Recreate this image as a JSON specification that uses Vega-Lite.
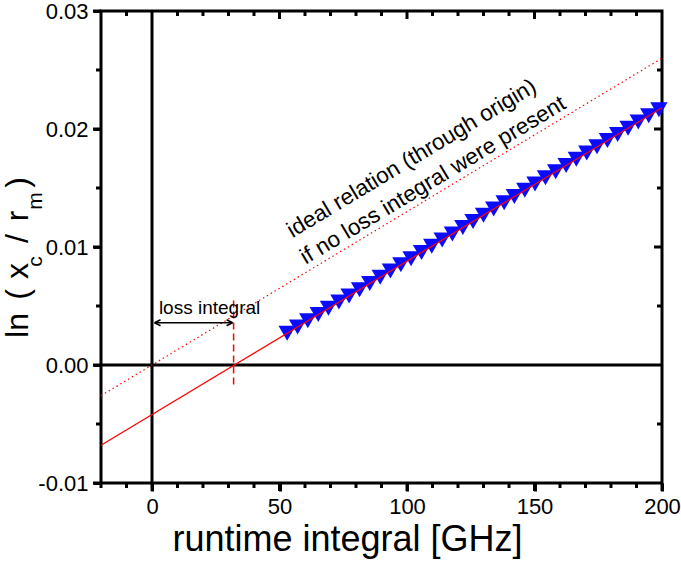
{
  "$schema": "https://vega.github.io/schema/vega-lite/v6.json",
  "autosize": {"type": "none"},
  "padding": {"left": 101, "top": 11, "right": 19, "bottom": 79},
  "width": 561,
  "height": 472,
  "background": "white",
  "config": {
    "font": "Liberation Sans",
    "view": {"stroke": "black", "strokeWidth": 3}
  },
  "datasets": {
    "pts": [
      {"x": 53.0, "y": 0.00269}, {"x": 57.1, "y": 0.00322}, {"x": 61.1, "y": 0.00374}, {"x": 65.2, "y": 0.00428},
      {"x": 69.2, "y": 0.00480}, {"x": 73.3, "y": 0.00533}, {"x": 77.3, "y": 0.00585}, {"x": 81.4, "y": 0.00638},
      {"x": 85.4, "y": 0.00690}, {"x": 89.5, "y": 0.00744}, {"x": 93.5, "y": 0.00796}, {"x": 97.6, "y": 0.00849},
      {"x": 101.6, "y": 0.00901}, {"x": 105.7, "y": 0.00954}, {"x": 109.7, "y": 0.01006}, {"x": 113.8, "y": 0.01059},
      {"x": 117.8, "y": 0.01111}, {"x": 121.9, "y": 0.01165}, {"x": 125.9, "y": 0.01217}, {"x": 130.0, "y": 0.01270},
      {"x": 134.0, "y": 0.01322}, {"x": 138.1, "y": 0.01375}, {"x": 142.1, "y": 0.01427}, {"x": 146.2, "y": 0.01481},
      {"x": 150.2, "y": 0.01533}, {"x": 154.3, "y": 0.01586}, {"x": 158.3, "y": 0.01638}, {"x": 162.4, "y": 0.01691},
      {"x": 166.4, "y": 0.01743}, {"x": 170.5, "y": 0.01797}, {"x": 174.5, "y": 0.01849}, {"x": 178.6, "y": 0.01902},
      {"x": 182.6, "y": 0.01954}, {"x": 186.7, "y": 0.02007}, {"x": 190.7, "y": 0.02059}, {"x": 194.8, "y": 0.02112},
      {"x": 198.8, "y": 0.02164}
    ],
    "fit": [{"x": -20, "y": -0.0068}, {"x": 200, "y": 0.0218}],
    "ideal": [{"x": -20, "y": -0.0026}, {"x": 200, "y": 0.026}],
    "xticks": [
      {"v": 0, "a": -0.01, "b": -0.010678}, {"v": 50, "a": -0.01, "b": -0.010678}, {"v": 100, "a": -0.01, "b": -0.010678}, {"v": 150, "a": -0.01, "b": -0.010678}, {"v": 200, "a": -0.01, "b": -0.010678},
      {"v": -20, "a": -0.01, "b": -0.010424}, {"v": -10, "a": -0.01, "b": -0.010424}, {"v": 10, "a": -0.01, "b": -0.010424}, {"v": 20, "a": -0.01, "b": -0.010424}, {"v": 30, "a": -0.01, "b": -0.010424}, {"v": 40, "a": -0.01, "b": -0.010424},
      {"v": 60, "a": -0.01, "b": -0.010424}, {"v": 70, "a": -0.01, "b": -0.010424}, {"v": 80, "a": -0.01, "b": -0.010424}, {"v": 90, "a": -0.01, "b": -0.010424}, {"v": 110, "a": -0.01, "b": -0.010424}, {"v": 120, "a": -0.01, "b": -0.010424},
      {"v": 130, "a": -0.01, "b": -0.010424}, {"v": 140, "a": -0.01, "b": -0.010424}, {"v": 160, "a": -0.01, "b": -0.010424}, {"v": 170, "a": -0.01, "b": -0.010424}, {"v": 180, "a": -0.01, "b": -0.010424}, {"v": 190, "a": -0.01, "b": -0.010424},
      {"v": 50, "a": 0.03, "b": 0.029322}, {"v": 100, "a": 0.03, "b": 0.029322}, {"v": 150, "a": 0.03, "b": 0.029322},
      {"v": -10, "a": 0.03, "b": 0.029576}, {"v": 10, "a": 0.03, "b": 0.029576}, {"v": 20, "a": 0.03, "b": 0.029576}, {"v": 30, "a": 0.03, "b": 0.029576}, {"v": 40, "a": 0.03, "b": 0.029576},
      {"v": 60, "a": 0.03, "b": 0.029576}, {"v": 70, "a": 0.03, "b": 0.029576}, {"v": 80, "a": 0.03, "b": 0.029576}, {"v": 90, "a": 0.03, "b": 0.029576}, {"v": 110, "a": 0.03, "b": 0.029576}, {"v": 120, "a": 0.03, "b": 0.029576},
      {"v": 130, "a": 0.03, "b": 0.029576}, {"v": 140, "a": 0.03, "b": 0.029576}, {"v": 160, "a": 0.03, "b": 0.029576}, {"v": 170, "a": 0.03, "b": 0.029576}, {"v": 180, "a": 0.03, "b": 0.029576}, {"v": 190, "a": 0.03, "b": 0.029576}
    ],
    "yticks": [
      {"v": -0.01, "a": -20, "b": -23.137}, {"v": 0, "a": -20, "b": -23.137}, {"v": 0.01, "a": -20, "b": -23.137}, {"v": 0.02, "a": -20, "b": -23.137}, {"v": 0.03, "a": -20, "b": -23.137},
      {"v": -0.005, "a": -20, "b": -21.961}, {"v": 0.005, "a": -20, "b": -21.961}, {"v": 0.015, "a": -20, "b": -21.961}, {"v": 0.025, "a": -20, "b": -21.961},
      {"v": 0.01, "a": 200, "b": 196.863}, {"v": 0.02, "a": 200, "b": 196.863},
      {"v": -0.005, "a": 200, "b": 198.039}, {"v": 0.005, "a": 200, "b": 198.039}, {"v": 0.015, "a": 200, "b": 198.039}, {"v": 0.025, "a": 200, "b": 198.039}
    ]
  },
  "resolve": {"axis": {"x": "independent", "y": "independent"}},
  "layer": [
    {
      "data": {"values": [{"x": 0}]},
      "mark": {"type": "rule", "stroke": "black", "strokeWidth": 3},
      "encoding": {"x": {"field": "x", "type": "quantitative", "axis": null, "scale": {"domain": [-20, 200], "nice": false, "zero": false}}}
    },
    {
      "data": {"values": [{"y": 0}]},
      "mark": {"type": "rule", "stroke": "black", "strokeWidth": 3},
      "encoding": {"y": {"field": "y", "type": "quantitative", "axis": null, "scale": {"domain": [-0.01, 0.03], "nice": false, "zero": false}}}
    },
    {
      "data": {"name": "xticks"},
      "mark": {"type": "rule", "stroke": "#000000", "strokeWidth": 3, "opacity": 1, "strokeCap": "butt"},
      "encoding": {
        "x": {"field": "v", "type": "quantitative", "axis": null, "scale": {"domain": [-20, 200], "nice": false, "zero": false}},
        "y": {"field": "a", "type": "quantitative", "axis": null, "scale": {"domain": [-0.01, 0.03], "nice": false, "zero": false}},
        "y2": {"field": "b"}
      }
    },
    {
      "data": {"name": "yticks"},
      "mark": {"type": "rule", "stroke": "#000000", "strokeWidth": 3, "opacity": 1, "strokeCap": "butt"},
      "encoding": {
        "y": {"field": "v", "type": "quantitative", "axis": null, "scale": {"domain": [-0.01, 0.03], "nice": false, "zero": false}},
        "x": {"field": "a", "type": "quantitative", "axis": null, "scale": {"domain": [-20, 200], "nice": false, "zero": false}},
        "x2": {"field": "b"}
      }
    },
    {
      "data": {"name": "ideal"},
      "mark": {"type": "line", "stroke": "#ff0000", "strokeWidth": 1.2, "strokeDash": [1.5, 3]},
      "encoding": {
        "x": {"field": "x", "type": "quantitative", "axis": null, "scale": {"domain": [-20, 200], "nice": false, "zero": false}},
        "y": {"field": "y", "type": "quantitative", "axis": null, "scale": {"domain": [-0.01, 0.03], "nice": false, "zero": false}}
      }
    },
    {
      "data": {"values": [{"x": 32, "y": -0.00165, "y2": 0.0058}]},
      "mark": {"type": "rule", "stroke": "#ff0000", "strokeWidth": 1.5, "strokeDash": [7, 4]},
      "encoding": {
        "x": {"field": "x", "type": "quantitative", "axis": null, "scale": {"domain": [-20, 200], "nice": false, "zero": false}},
        "y": {"field": "y", "type": "quantitative", "axis": null, "scale": {"domain": [-0.01, 0.03], "nice": false, "zero": false}},
        "y2": {"field": "y2"}
      }
    },
    {
      "data": {"values": [{"x": 1.0, "x2": 31.6, "y": 0.00358}]},
      "mark": {"type": "rule", "stroke": "black", "strokeWidth": 1.5},
      "encoding": {
        "x": {"field": "x", "type": "quantitative", "axis": null, "scale": {"domain": [-20, 200], "nice": false, "zero": false}},
        "x2": {"field": "x2"},
        "y": {"field": "y", "type": "quantitative", "axis": null, "scale": {"domain": [-0.01, 0.03], "nice": false, "zero": false}}
      }
    },
    {
      "data": {"values": [{"x": 1.0, "y": 0.00358}]},
      "mark": {"type": "point", "shape": "M0,0L2,-1M0,0L2,1", "size": 36, "filled": false, "stroke": "black", "strokeWidth": 1.5, "opacity": 1},
      "encoding": {
        "x": {"field": "x", "type": "quantitative", "axis": null, "scale": {"domain": [-20, 200], "nice": false, "zero": false}},
        "y": {"field": "y", "type": "quantitative", "axis": null, "scale": {"domain": [-0.01, 0.03], "nice": false, "zero": false}}
      }
    },
    {
      "data": {"values": [{"x": 31.6, "y": 0.00358}]},
      "mark": {"type": "point", "shape": "M0,0L-2,-1M0,0L-2,1", "size": 36, "filled": false, "stroke": "black", "strokeWidth": 1.5, "opacity": 1},
      "encoding": {
        "x": {"field": "x", "type": "quantitative", "axis": null, "scale": {"domain": [-20, 200], "nice": false, "zero": false}},
        "y": {"field": "y", "type": "quantitative", "axis": null, "scale": {"domain": [-0.01, 0.03], "nice": false, "zero": false}}
      }
    },
    {
      "data": {"values": [{"t": "loss integral", "x": 2.7, "y": 0.00432}]},
      "mark": {"type": "text", "fontSize": 19, "align": "left", "baseline": "alphabetic", "color": "black"},
      "encoding": {
        "x": {"field": "x", "type": "quantitative", "axis": null, "scale": {"domain": [-20, 200], "nice": false, "zero": false}},
        "y": {"field": "y", "type": "quantitative", "axis": null, "scale": {"domain": [-0.01, 0.03], "nice": false, "zero": false}},
        "text": {"field": "t"}
      }
    },
    {
      "data": {"values": [
        {"t": "ideal relation (through origin)", "x": 103.2, "y": 0.01700},
        {"t": "if no loss integral were present", "x": 111.6, "y": 0.01516}
      ]},
      "mark": {"type": "text", "fontSize": 22.5, "align": "center", "baseline": "alphabetic", "angle": 329, "color": "black"},
      "encoding": {
        "x": {"field": "x", "type": "quantitative", "axis": null, "scale": {"domain": [-20, 200], "nice": false, "zero": false}},
        "y": {"field": "y", "type": "quantitative", "axis": null, "scale": {"domain": [-0.01, 0.03], "nice": false, "zero": false}},
        "text": {"field": "t"}
      }
    },
    {
      "data": {"values": [
        {"t": "ln", "x": -48.8, "y": 0.003347},
        {"t": "(", "x": -48.8, "y": 0.005975},
        {"t": "x", "x": -48.8, "y": 0.007966},
        {"t": "/", "x": -48.8, "y": 0.01072},
        {"t": "r", "x": -48.8, "y": 0.012627},
        {"t": ")", "x": -48.8, "y": 0.015466}
      ]},
      "mark": {"type": "text", "fontSize": 32, "align": "center", "baseline": "alphabetic", "angle": 270, "color": "black"},
      "encoding": {
        "x": {"field": "x", "type": "quantitative", "axis": null, "scale": {"domain": [-20, 200], "nice": false, "zero": false}},
        "y": {"field": "y", "type": "quantitative", "axis": null, "scale": {"domain": [-0.01, 0.03], "nice": false, "zero": false}},
        "text": {"field": "t"}
      }
    },
    {
      "data": {"values": [
        {"t": "c", "x": -43.0, "y": 0.008771},
        {"t": "m", "x": -43.0, "y": 0.013898}
      ]},
      "mark": {"type": "text", "fontSize": 21, "align": "center", "baseline": "alphabetic", "angle": 270, "color": "black"},
      "encoding": {
        "x": {"field": "x", "type": "quantitative", "axis": null, "scale": {"domain": [-20, 200], "nice": false, "zero": false}},
        "y": {"field": "y", "type": "quantitative", "axis": null, "scale": {"domain": [-0.01, 0.03], "nice": false, "zero": false}},
        "text": {"field": "t"}
      }
    },
    {
      "data": {"name": "pts"},
      "mark": {"type": "point", "shape": "triangle-down", "size": 300, "filled": true, "fill": "#0a0aff", "opacity": 1, "strokeWidth": 0},
      "encoding": {
        "x": {"field": "x", "type": "quantitative", "scale": {"domain": [-20, 200], "nice": false, "zero": false},
              "axis": {"orient": "bottom", "values": [0, 50, 100, 150, 200], "grid": false, "domain": false, "ticks": true, "tickColor": "#000000", "tickWidth": 3, "tickOpacity": 1, "tickSize": 8,
                       "labelFontSize": 22, "labelPadding": 5, "labelColor": "black", "labelFont": "Liberation Sans", "labelFlush": false, "labelOverlap": false,
                       "title": "runtime integral [GHz]", "titleFont": "Liberation Sans", "titleFontWeight": "normal", "titleColor": "black", "titleFontSize": 36, "titlePadding": 5, "titleX": 246, "titleAlign": "center"}},
        "y": {"field": "y", "type": "quantitative", "scale": {"domain": [-0.01, 0.03], "nice": false, "zero": false},
              "axis": {"orient": "left", "values": [-0.01, 0, 0.01, 0.02, 0.03], "grid": false, "domain": false, "ticks": true, "tickColor": "#000000", "tickWidth": 3, "tickOpacity": 1, "tickSize": 8,
                       "labelFontSize": 22, "labelPadding": 5, "labelColor": "black", "labelFont": "Liberation Sans", "labelFlush": false, "labelOverlap": false,
                       "labelExpr": "datum.value < -0.0001 ? '-' + format(-datum.value, '.2f') : format(abs(datum.value), '.2f')", "title": null}}
      }
    },
    {
      "data": {"name": "fit"},
      "mark": {"type": "line", "stroke": "#ff0000", "strokeWidth": 1.3},
      "encoding": {
        "x": {"field": "x", "type": "quantitative", "axis": null, "scale": {"domain": [-20, 200], "nice": false, "zero": false}},
        "y": {"field": "y", "type": "quantitative", "axis": null, "scale": {"domain": [-0.01, 0.03], "nice": false, "zero": false}}
      }
    }
  ]
}
